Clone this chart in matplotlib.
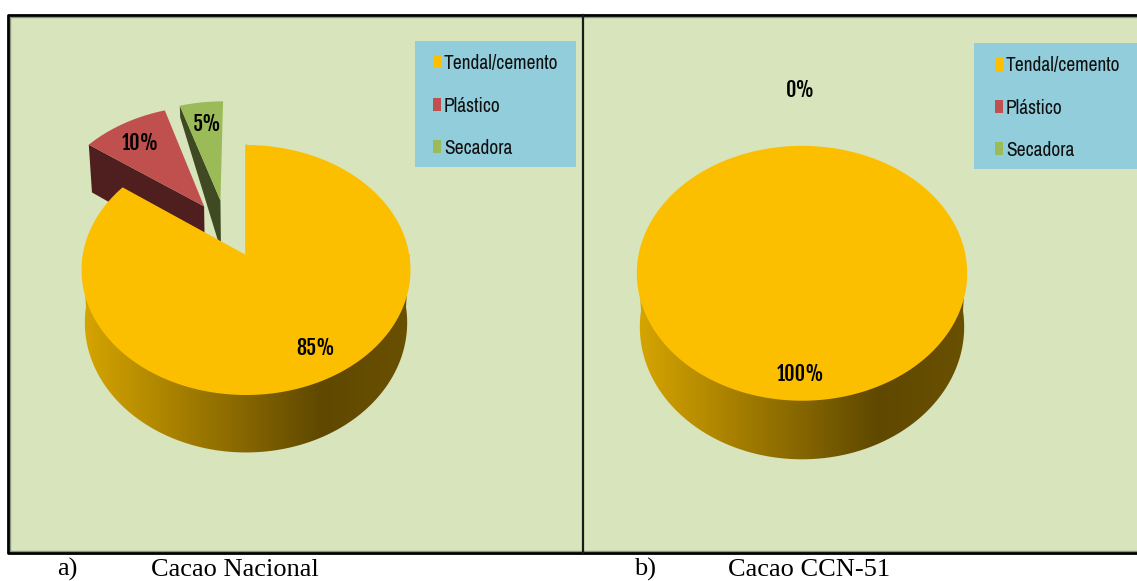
import numpy as np
import matplotlib
matplotlib.use('Agg')
import matplotlib.pyplot as plt
from matplotlib.colors import LinearSegmentedColormap
from matplotlib.patches import Polygon, Rectangle

categories = ['Tendal/cemento', 'Plástico', 'Secadora']
nacional = [85, 10, 5]
ccn51 = [100, 0, 0]
cap_a = ['a)', 'Cacao Nacional']
cap_b = ['b)', 'Cacao CCN-51']

colors = ['#fcbf00', '#c0504d', '#9bbb59']
wall_colors = ['#6a5000', '#4f1f1f', '#3f4a22']
bg = '#d8e4bc'
legend_bg = '#92cddc'
narrow = ['Archivo Narrow', 'PT Sans Narrow', 'Liberation Sans', 'DejaVu Sans']
narrow_bold = ['Fjalla One', 'PT Sans Narrow', 'Archivo Narrow', 'Liberation Sans', 'DejaVu Sans']
serif = ['Liberation Serif', 'DejaVu Serif']

shade = LinearSegmentedColormap.from_list('shade', ['#d6a500', '#5f4800', '#6a5000'])


def project(u, v, g, lower=False):
    # unit disc -> picture, top face or bottom face of the pie
    if lower:
        return (g['cx'] + u*g['b2']/(1 + g['k']*v),
                g['cy'] + g['dy'] - v*g['a2']/(1 + g['k']*v))
    return (g['cx'] + u*g['b']/(1 + g['k']*v),
            g['cy'] - v*g['a']/(1 + g['k']*v))


def arc(t0, t1, off, g, lower=False):
    t = np.radians(np.linspace(t0, t1, 200))
    x, y = project(off[0] + np.sin(t), off[1] + np.cos(t), g, lower)
    return np.column_stack([x, y])


def draw_pie(ax, values, g, explode, bearing, wall, show, nudge):
    edges = np.cumsum([0] + values)*3.6
    offs = [(e*np.sin(np.radians(b)), e*np.cos(np.radians(b))) for e, b in zip(explode, bearing)]

    # exploded slices first, they sit behind the big one
    for i in [2, 1]:
        if values[i] == 0:
            continue
        t0, t1 = edges[i], edges[i+1]
        off = offs[i]
        tip = np.array(project(off[0], off[1], g))
        tip_low = np.array(project(off[0], off[1], g, True))
        outer = arc(t0, t0, off, g)[0]
        outer_low = arc(t0, t0, off, g, True)[0]
        outer_low = outer + wall[i]*(outer_low - outer)
        ax.add_patch(Polygon([tip, outer, outer_low, tip_low], fc=wall_colors[i], ec='none', zorder=2))
        ax.add_patch(Polygon(np.vstack([tip, arc(t0, t1, off, g)]), fc=colors[i], ec='none', zorder=3))

    # front of the big slice with its left to right shading, top face hides the rest
    low = arc(90, 270, offs[0], g, True)
    side = np.vstack([arc(90, 90, offs[0], g)[:1], low, arc(270, 270, offs[0], g)[:1]])
    clip = Polygon(side, transform=ax.transData)
    x0, x1 = g['cx'] - 165, g['cx'] + 165
    grad = np.interp(np.linspace(0, 1, 400), [0, 0.73, 1], [0, 0.5, 1]).reshape(1, -1)
    im = ax.imshow(grad, cmap=shade, vmin=0, vmax=1, aspect='auto', zorder=4,
                   extent=[x0, x1, g['cy'] + 220, g['cy'] - 130])
    im.set_clip_path(clip)

    t0, t1 = edges[0], edges[1]
    top = arc(t0, t1, offs[0], g)
    if values[0] < 100:
        apex = project(0, 0, g)
        ax.plot([apex[0], top[0, 0]], [apex[1], top[0, 1]], color='#6a5000', lw=1, zorder=4.5)
        top = np.vstack([apex, top])
    ax.add_patch(Polygon(top, fc=colors[0], ec='none', zorder=5))

    for i in range(3):
        if not show[i]:
            continue
        mid = np.radians((edges[i] + edges[i+1])/2)
        lx, ly = project(offs[i][0] + 0.79*np.sin(mid), offs[i][1] + 0.79*np.cos(mid), g)
        ax.text(lx + nudge[i][0], ly + nudge[i][1], '%d%%' % values[i], ha='center', va='center',
                fontsize=14.5, family=narrow_bold, color='black', zorder=6)


def draw_legend(ax, x0, y0, x1, y1, sq_x, txt_x, rows):
    ax.add_patch(Rectangle((x0, y0), x1 - x0, y1 - y0, fc=legend_bg, ec='none', zorder=7))
    for c, name, y in zip(colors, categories, rows):
        ax.add_patch(Rectangle((sq_x, y - 6.5), 8, 13, fc=c, ec='none', zorder=8))
        ax.text(txt_x, y + 2, name, ha='left', va='center', fontsize=14, family=narrow,
                color='#101010', zorder=8)


fig = plt.figure(figsize=(11.37, 5.81), dpi=100)
ax = fig.add_axes([0, 0, 1, 1])

# panels
ax.add_patch(Rectangle((8, 15), 1137, 538, fc=bg, ec='none', zorder=0))
ax.plot([1137, 8, 8, 1137], [15, 15, 553, 553], color='black', lw=2, zorder=9)
ax.plot([1137, 10, 10, 1137], [17, 17, 551, 551], color='#8c9482', lw=1, zorder=8.5)
ax.plot([583, 583], [15, 553], color='#1a1a1a', lw=1.6, zorder=9)

left = dict(cx=246, cy=255, a=123.2, b=163.3, k=0.12, dy=52, a2=128, b2=160)
right = dict(cx=802, cy=258, a=125.6, b=164, k=0.12, dy=53, a2=130.5, b2=161)

draw_pie(ax, nacional, left, [0, 0.495, 0.495], [0, -33, -19.5], [1, 1, 0.25], [True, True, True],
         [(6, -2), (1, 3), (2, 3)])
draw_pie(ax, ccn51, right, [0, 0, 0.83], [0, 0, 0], [1, 1, 1], [True, False, True],
         [(-1, 6), (0, 0), (-2, 2)])

draw_legend(ax, 415, 41, 576, 167, 433, 444, [61, 104, 146])
draw_legend(ax, 974, 43, 1137, 169, 995, 1006, [64, 106, 148])

for x, s in zip([57, 151], cap_a):
    ax.text(x, 576, s, ha='left', va='baseline', fontsize=19, family=serif, color='black')
for x, s in zip([634, 728], cap_b):
    ax.text(x, 576, s, ha='left', va='baseline', fontsize=19, family=serif, color='black')

ax.set_xlim(0, 1137)
ax.set_ylim(581, 0)
ax.axis('off')
fig.savefig('out.png', dpi=100, facecolor='white')
